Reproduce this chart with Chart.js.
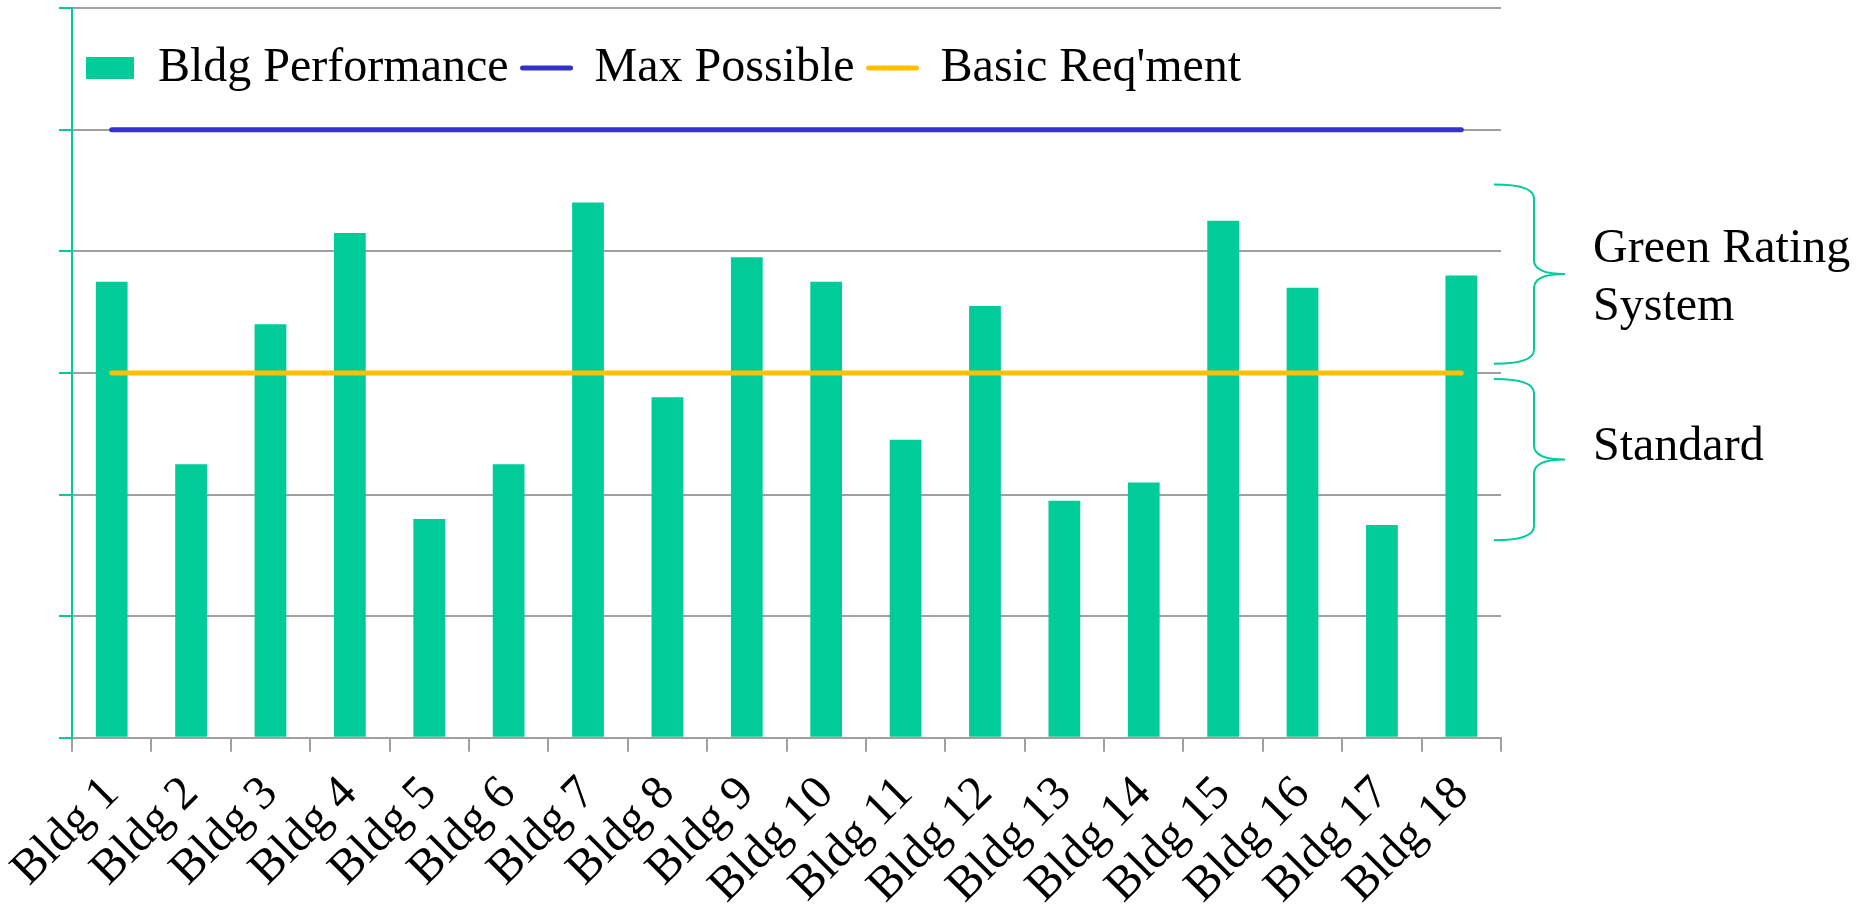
<!DOCTYPE html>
<html>
<head>
<meta charset="utf-8">
<title>Bldg Performance</title>
<script src="https://cdn.jsdelivr.net/npm/chart.js@4.4.0/dist/chart.umd.min.js"></script>
<style>
    html, body { margin: 0; padding: 0; background: #fff; }
    #wrap { width: 1857px; height: 907px; }
</style>
</head>
<body>
<div id="wrap"><canvas id="chart"></canvas></div>
<script>
// Données du graphique
const buildings = ['Bldg 1', 'Bldg 2', 'Bldg 3', 'Bldg 4', 'Bldg 5', 'Bldg 6', 'Bldg 7', 'Bldg 8', 'Bldg 9',
    'Bldg 10', 'Bldg 11', 'Bldg 12', 'Bldg 13', 'Bldg 14', 'Bldg 15', 'Bldg 16', 'Bldg 17', 'Bldg 18'];
const performance = [75, 45, 68, 83, 36, 45, 88, 56, 79, 75, 49, 71, 39, 42, 85, 74, 35, 76];
const maxPossible = [100, 100, 100, 100, 100, 100, 100, 100, 100, 100, 100, 100, 100, 100, 100, 100, 100, 100];
const basicReq = [60, 60, 60, 60, 60, 60, 60, 60, 60, 60, 60, 60, 60, 60, 60, 60, 60, 60];
const yMin = 0;
const yMax = 120;
const yStep = 20;

// Accolades à droite : [bas, haut] en valeurs de l'axe
const braceRanges = [[61.5, 91], [32.5, 59]];
const braceLabels = [['Green Rating', 'System'], ['Standard']];

const green = '#00CC99';
const blue = '#3333CC';
const orange = '#FFC000';
const gridGray = '#A0A0A0';
const serif = "'Liberation Serif', 'Times New Roman', serif";

Chart.defaults.font.family = serif;
Chart.defaults.color = '#000';

// Légende sur une seule ligne, à l'intérieur de la zone du graphique
const legendInside = {
    id: 'legendInside',
    beforeLayout(chart) {
        if (chart.legend) chart.legend.isHorizontal = () => true;
    },
    afterLayout(chart) {
        const area = chart.chartArea;
        chart.legend.left = area.left;
        chart.legend.right = area.right;
        chart.legend.top = area.top + 22;
        chart.legend.bottom = chart.legend.top + chart.legend.height;
    }
};

// Accolades + textes
const bracePlugin = {
    id: 'braces',
    afterDraw(chart) {
        const ctx = chart.ctx;
        const yScale = chart.scales.y;
        const right = chart.chartArea.right;
        const x0 = right - 7, x1 = right + 33, x2 = right + 64;
        const r = 14;
        ctx.save();
        ctx.strokeStyle = green;
        ctx.lineWidth = 2;
        braceRanges.forEach((range, i) => {
            const bot = yScale.getPixelForValue(range[0]);
            const top = yScale.getPixelForValue(range[1]);
            const mid = (top + bot) / 2;
            ctx.beginPath();
            ctx.moveTo(x0, top);
            ctx.quadraticCurveTo(x1, top, x1, top + r);
            ctx.lineTo(x1, mid - r);
            ctx.quadraticCurveTo(x1, mid, x2, mid);
            ctx.quadraticCurveTo(x1, mid, x1, mid + r);
            ctx.lineTo(x1, bot - r);
            ctx.quadraticCurveTo(x1, bot, x0, bot);
            ctx.stroke();

            const lines = braceLabels[i];
            ctx.fillStyle = '#000';
            ctx.font = '48px ' + serif;
            ctx.textAlign = 'left';
            ctx.textBaseline = 'alphabetic';
            lines.forEach((txt, k) => {
                ctx.fillText(txt, right + 92, mid - 12 * (lines.length - 1) + k * 58);
            });
        });
        ctx.restore();
    }
};

const chart = new Chart(document.getElementById('chart'), {
    type: 'bar',
    data: {
        labels: buildings,
        datasets: [
            {
                label: 'Bldg Performance',
                data: performance,
                backgroundColor: green,
                borderWidth: 0,
                barPercentage: 0.4,
                categoryPercentage: 1.0,
                order: 1
            },
            {
                type: 'line',
                label: 'Max Possible',
                data: maxPossible,
                borderColor: blue,
                backgroundColor: blue,
                borderWidth: 5,
                borderCapStyle: 'round',
                pointRadius: 0,
                fill: false,
                order: 0
            },
            {
                type: 'line',
                label: "Basic Req'ment",
                data: basicReq,
                borderColor: orange,
                backgroundColor: orange,
                borderWidth: 5,
                borderCapStyle: 'round',
                pointRadius: 0,
                fill: false,
                order: 0
            }
        ]
    },
    options: {
        responsive: true,
        maintainAspectRatio: false,
        animation: false,
        devicePixelRatio: 1,
        layout: {
            padding: { left: 59, right: 356, top: 8, bottom: -22 }
        },
        plugins: {
            tooltip: { enabled: false },
            legend: {
                position: 'chartArea',
                align: 'start',
                labels: {
                    usePointStyle: true,
                    pointStyleWidth: 48,
                    boxHeight: 22,
                    padding: 14,
                    color: '#000',
                    font: { size: 48, family: serif },
                    sort: (a, b) => a.datasetIndex - b.datasetIndex,
                    generateLabels(chart) {
                        const items = Chart.defaults.plugins.legend.labels.generateLabels(chart);
                        items.forEach(item => {
                            if (item.datasetIndex === 0) {
                                item.pointStyle = 'rect';
                                item.lineWidth = 0;
                            } else {
                                item.pointStyle = 'line';
                                item.lineWidth = 5;
                                item.lineCap = 'round';
                            }
                        });
                        return items;
                    }
                }
            }
        },
        scales: {
            x: {
                grid: {
                    drawOnChartArea: false,
                    offset: true,
                    color: gridGray,
                    lineWidth: 2,
                    tickLength: 14
                },
                border: { color: gridGray, width: 2 },
                ticks: {
                    autoSkip: false,
                    maxRotation: 45,
                    minRotation: 45,
                    padding: 14,
                    color: '#000',
                    font: { size: 48, family: serif }
                }
            },
            y: {
                min: yMin,
                max: yMax,
                ticks: { stepSize: yStep, display: false },
                grid: {
                    color: gridGray,
                    lineWidth: 2,
                    tickColor: green,
                    tickLength: 13
                },
                border: { color: green, width: 2 }
            }
        }
    },
    plugins: [legendInside, bracePlugin]
});
</script>
</body>
</html>
